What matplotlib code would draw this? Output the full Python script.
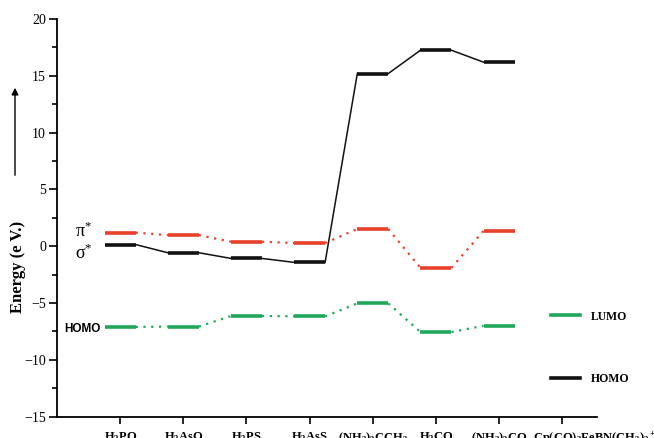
import matplotlib
matplotlib.use('Agg')
import matplotlib.pyplot as plt
from matplotlib.lines import Line2D

plt.rcParams['font.family'] = ['Liberation Serif', 'DejaVu Serif']
plt.rcParams['mathtext.fontset'] = 'custom'
plt.rcParams['mathtext.bf'] = 'Liberation Serif:bold'
plt.rcParams['mathtext.rm'] = 'Liberation Serif:bold'
plt.rcParams['mathtext.default'] = 'bf'

molecules = [r'H$_3$PO', r'H$_3$AsO', r'H$_3$PS', r'H$_3$AsS',
             r'(NH$_2$)$_3$CCH$_3$', r'H$_3$CO', r'(NH$_2$)$_3$CO',
             r'Cp(CO)$_2$FeBN(CH$_3$)$_2$$^+$']
sigma_star = [0.15, -0.57, -1.07, -1.42, 15.2, 17.25, 16.2]
pi_star = [1.2, 0.98, 0.4, 0.28, 1.52, -1.9, 1.35]
homo = [-7.1, -7.07, -6.14, -6.17, -5.03, -7.55, -7.0]

black = '#111111'
red = '#e8402a'
green = '#1fa85a'
hw = 0.245


def levels(ax, vals, color, connstyle, connlw):
  for i, v in enumerate(vals):
    x = i + 1
    ax.plot([x - hw, x + hw], [v, v], color=color, lw=2.6, solid_capstyle='butt', zorder=3)
    if i + 1 < len(vals):
      ax.plot([x + hw, x + 1 - hw], [v, vals[i + 1]], color=color,
              ls=connstyle, lw=connlw, zorder=2)


fig = plt.figure(figsize=(6.54, 4.38), dpi=100)
ax = fig.add_axes([57 / 654, 1 - 416.7 / 438, 540 / 654, 397.7 / 438])

levels(ax, sigma_star, black, '-', 1.1)
levels(ax, pi_star, red, (0, (1, 2.5)), 1.6)
levels(ax, homo, green, (0, (1, 2.5)), 1.6)

ax.set_xlim(0, 8.55)
ax.set_ylim(-15, 20)
ax.set_yticks(range(-15, 21, 5))
ax.set_yticks([-12.5, -7.5, -2.5, 2.5, 7.5, 12.5, 17.5], minor=True)
ax.set_xticks(range(1, 9))
# the last label starts left of its tick in the original, so it hangs on a
# zero-length minor tick instead
ax.set_xticklabels(molecules[:-1] + [''], fontsize=9, fontweight='bold')
ax.set_xticks([8 - 0.47], minor=True)
ax.set_xticklabels([molecules[-1]], minor=True, fontsize=9, fontweight='bold', ha='left')
ax.tick_params(axis='y', which='major', direction='out', length=6, width=1.2, labelsize=10, pad=2)
ax.tick_params(axis='y', which='minor', direction='out', length=3.5, width=1.2)
ax.tick_params(axis='x', which='major', direction='out', length=5, width=1.2, pad=5)
ax.tick_params(axis='x', which='minor', length=0, pad=10)
for s in ['top', 'right']:
  ax.spines[s].set_visible(False)
for s in ['left', 'bottom']:
  ax.spines[s].set_linewidth(1.3)

ax.text(0.42, 1.3, r'$\mathregular{\pi^{*}}$', fontsize=13, ha='center', va='center')
ax.text(0.42, -0.6, r'$\mathregular{\sigma^{*}}$', fontsize=13, ha='center', va='center')
ax.text(0.4, -7.3, 'HOMO', fontsize=8.5, fontweight='bold', family='Liberation Sans',
        ha='center', va='center')

handles = [Line2D([], [], color=green, lw=2.6), Line2D([], [], color=black, lw=2.6)]
ax.legend(handles, ['LUMO', 'HOMO'], frameon=False, loc='upper left',
          bbox_to_anchor=(540 / 654, 1 - 300 / 438), bbox_transform=fig.transFigure,
          handlelength=2.5, handletextpad=0.9, labelspacing=4.3,
          prop={'weight': 'bold', 'size': 8.5})

fig.text(18 / 654, 1 - 267 / 438, 'Energy (e V.)', rotation=90, fontsize=12,
         fontweight='bold', ha='center', va='center')
fig.add_artist(matplotlib.patches.FancyArrowPatch(
  (15 / 654, 1 - 178 / 438), (15 / 654, 1 - 85 / 438), transform=fig.transFigure,
  arrowstyle='-|>', mutation_scale=10, lw=1.0, color='black'))

fig.savefig('out.png', dpi=100)
